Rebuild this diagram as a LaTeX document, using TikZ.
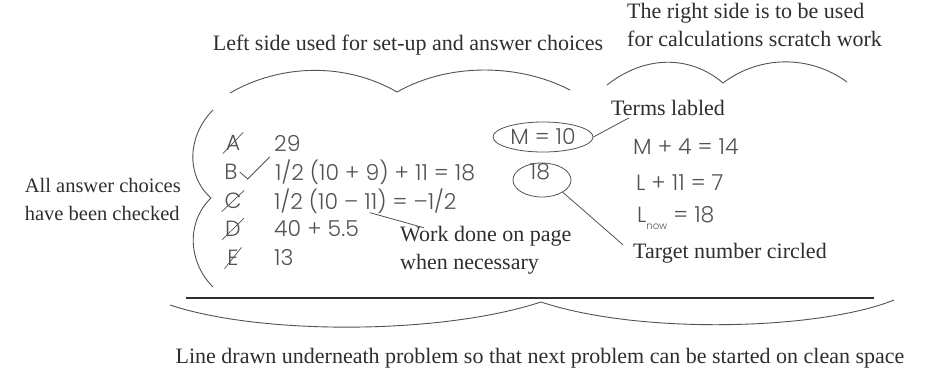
\documentclass[tikz,border=0pt]{standalone}
\usepackage{fontspec}
\setmainfont{Liberation Serif}
\IfFontExistsTF{Poppins Light}
  {\newfontfamily\handfont{Poppins Light}}
  {\newfontfamily\handfont{Poppins}}
\usetikzlibrary{shapes.geometric}
\colorlet{ink}{black!82}
\colorlet{pencil}{black!68}
\tikzset{
  note/.style={font=\fontsize{22}{28}\selectfont, text=ink, inner sep=0pt, align=left},
  hand/.style={font=\handfont\fontsize{22}{26}\selectfont, text=pencil, inner sep=1pt},
  struck/.style={
    hand,
    inner sep=3pt,
    path picture={\draw[pencil, line width=0.7pt]
      (path picture bounding box.south west) -- (path picture bounding box.north east);}
  },
  loop/.style={ellipse, draw=pencil, line width=0.8pt, inner sep=0pt},
  lead/.style={draw=pencil, line width=0.8pt},
  brace/.style={draw=pencil, line width=0.9pt},
  rule/.style={draw=ink, line width=2.2pt}
}

\begin{document}
\begin{tikzpicture}[x=1pt,y=-1pt]
  \useasboundingbox (0,0) rectangle (933,376);

  \node[note] (leftlbl) at (408,45) {Left side used for set-up and answer choices};
  \node[note, anchor=west] (rightlbl) at (627,25) {The right side is to be used\\for calculations scratch work};
  \node[note, anchor=east, font=\fontsize{20.5}{28}\selectfont] (checklbl) at (181,199) {All answer choices\\have been checked};

  \node[struck] (lA) at (233,143) {A};
  \node[hand] (lB) at (231,172) {B};
  \node[struck] (lC) at (233,201) {C};
  \node[struck] (lD) at (233,229) {D};
  \node[struck] (lE) at (233,258) {E};

  \node[hand, anchor=west] (fA) at (273,143) {29};
  \node[hand, anchor=west] (fB) at (274,172) {1/2 (10 + 9) + 11 = 18};
  \node[hand, anchor=west] (fC) at (273,201) {1/2 (10 – 11) = –1/2};
  \node[hand, anchor=west] (fD) at (273,229) {40 + 5.5};
  \node[hand, anchor=west] (fE) at (273,258) {13};

  \node[loop, minimum width=100, minimum height=30] (meq) at (543,137) {\handfont\fontsize{22}{26}\selectfont\color{pencil}M = 10};
  \node[loop, minimum width=58, minimum height=34] (tgt) at (542,180) {};
  \node[hand] (tgtnum) at (540,172) {18};

  \node[note] (terms) at (668,108) {Terms labled};
  \node[hand, anchor=west] (eqM) at (632,147) {M + 4 = 14};
  \node[hand, anchor=west] (eqL) at (635,183) {L + 11 = 7};
  \node[hand, anchor=west] (eqN) at (636,218) {L\raisebox{-7pt}{\fontsize{10}{10}\selectfont now} = 18};
  \node[note, anchor=west] (target) at (633,253) {Target number circled};
  \node[note, anchor=west] (work) at (400,250) {Work done on page\\when necessary};
  \node[note] (bottomlbl) at (540,358) {Line drawn underneath problem so that next problem can be started on clean space};

  \draw[lead] ([xshift=1pt]lB.east) -- ++(8,7) -- ++(22,-22);
  \draw[lead] (meq.east) -- ([xshift=18pt,yshift=-2pt]terms.south west);
  \draw[lead] (tgt.south east) -- ([xshift=-10pt,yshift=-2pt]target.north west);
  \draw[lead] ([xshift=-88pt,yshift=2pt]fC.south east) -- ([xshift=24pt,yshift=-2pt]work.north west);

  \draw[brace] (230,93) .. controls (280,64) and (345,62) .. (397,92)
    .. controls (450,62) and (520,64) .. (570,90);
  \draw[brace] (607,85) .. controls (645,55) and (690,55) .. (723,83)
    .. controls (760,55) and (810,55) .. (847,82);
  \draw[brace] (213,110) .. controls (188,135) and (185,175) .. (211,198)
    .. controls (186,222) and (188,262) .. (213,287);
  \draw[rule] (186,298) -- (874,298);
  \draw[brace] (170,305) .. controls (260,335) and (440,335) .. (541,302)
    .. controls (640,335) and (820,330) .. (894,300);
\end{tikzpicture}
\end{document}
